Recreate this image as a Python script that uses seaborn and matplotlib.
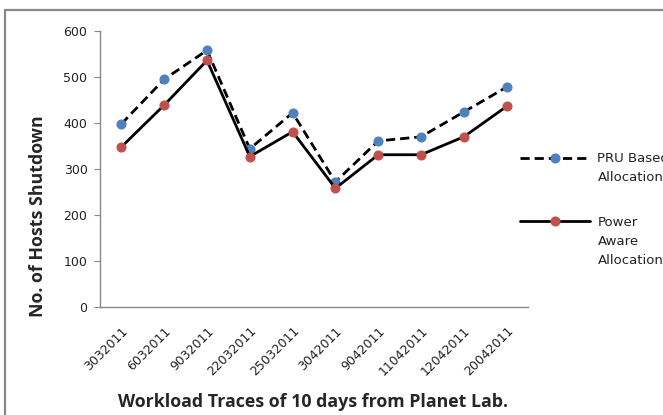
import matplotlib
matplotlib.use("Agg")
import matplotlib.pyplot as plt
import matplotlib.transforms as mtrans
import seaborn as sns
import pandas as pd
from matplotlib.patches import Rectangle
from matplotlib.legend_handler import HandlerLine2D

categories = ["3032011", "6032011", "9032011", "22032011", "25032011",
              "3042011", "9042011", "11042011", "12042011", "20042011"]
pru_based = [398, 495, 558, 344, 422, 272, 361, 370, 424, 478]
power_aware = [348, 439, 536, 327, 381, 258, 331, 331, 370, 436]
yticks = [0, 100, 200, 300, 400, 500, 600]

sns.set_style("white")
plt.rcParams['font.family'] = ['DejaVu Sans']

LEG_FS = 9.5
LEG_LS = 1.6
TICK_FS = 9.0


class ShiftHandler(HandlerLine2D):
    """Align the legend handle with the first line of a multi-line label."""
    def __init__(self, shift, **kw):
        super().__init__(**kw)
        self.shift = shift

    def create_artists(self, legend, orig_handle, xdescent, ydescent,
                       width, height, fontsize, trans):
        return super().create_artists(legend, orig_handle, xdescent,
                                      ydescent - 2 * self.shift, width,
                                      height, fontsize, trans)


fig = plt.figure(figsize=(6.63, 4.15), dpi=100)
ax = fig.add_axes([100/663, 1-307/415, 428/663, 276/415])

df = pd.DataFrame({"x": list(range(len(categories))),
                   "pru": pru_based, "pa": power_aware})

sns.lineplot(data=df, x="x", y="pru", ax=ax, color="black", linewidth=2.0,
             linestyle=(0, (3.3, 1.8)), marker="o", markersize=6.5,
             markerfacecolor="#4F81BD", markeredgecolor="#4F81BD",
             label="PRU Based\nAllocation")
sns.lineplot(data=df, x="x", y="pa", ax=ax, color="black", linewidth=2.0,
             marker="o", markersize=6.5,
             markerfacecolor="#C0504D", markeredgecolor="#C0504D",
             label="Power\nAware\nAllocation")

ax.set_xlim(-0.5, len(categories) - 0.5)
ax.set_ylim(0, 600)
ax.set_yticks(yticks)
ax.set_yticklabels([str(v) for v in yticks], fontsize=TICK_FS, color="#222222")
ax.set_xticks(range(len(categories)))
ax.set_xticklabels(categories, rotation=45, ha="right", rotation_mode="anchor",
                   fontsize=TICK_FS, color="#222222")
offset = mtrans.ScaledTranslation(3/100, 0, fig.dpi_scale_trans)
for lab in ax.get_xticklabels():
    lab.set_transform(lab.get_transform() + offset)
ax.set_xticks([i - 0.5 for i in range(len(categories) + 1)], minor=True)
ax.tick_params(axis="x", which="major", length=0, pad=12.5)
ax.tick_params(axis="x", which="minor", length=4, color="#888888", direction="out")
ax.tick_params(axis="y", length=4, color="#888888", direction="out", left=True, pad=5)

for s in ["top", "right"]:
    ax.spines[s].set_visible(False)
for s in ["left", "bottom"]:
    ax.spines[s].set_color("#888888")
    ax.spines[s].set_linewidth(1.0)

ax.set_xlabel("Workload Traces of 10 days from Planet Lab.", fontsize=12.8,
              fontweight="bold", family="Open Sans", va="baseline")
ax.xaxis.set_label_coords(213/428, -100/276)
ax.set_ylabel("No. of Hosts Shutdown", fontsize=12.8, fontweight="bold",
              family="Open Sans", va="baseline")
ax.yaxis.set_label_coords(-57/428, 91/276)

h, l = ax.get_legend_handles_labels()
line_pt = LEG_FS * LEG_LS
leg = ax.legend(h, l, loc="upper left", bbox_to_anchor=(515/663, 1-147/415),
                bbox_transform=fig.transFigure, frameon=False, fontsize=LEG_FS,
                handlelength=5.3, labelspacing=2.4, handletextpad=0.55,
                borderaxespad=0,
                handler_map={h[0]: ShiftHandler(0.5 * line_pt),
                             h[1]: ShiftHandler(1.0 * line_pt)})
for t in leg.get_texts():
    t.set_linespacing(LEG_LS)
    t.set_color("#222222")

fig.patches.append(Rectangle((5/663, -0.05), 1.2, 1-10/415+0.05,
                             transform=fig.transFigure, fill=False,
                             edgecolor="#888888", linewidth=1.6, zorder=0))

fig.savefig("out.png", dpi=100)
